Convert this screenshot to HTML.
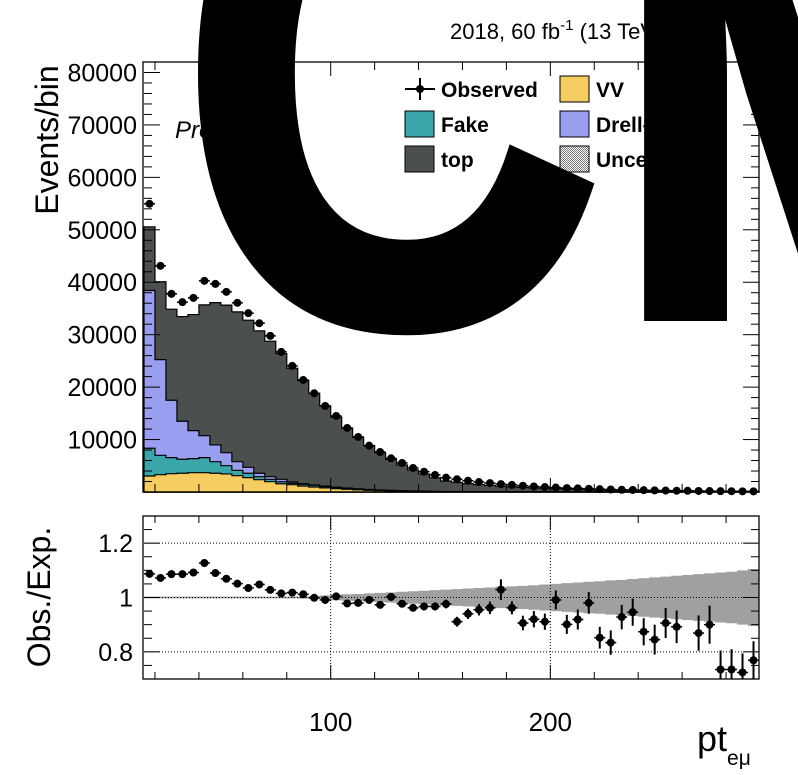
<!DOCTYPE html>
<html><head><meta charset="utf-8">
<style>
html,body{margin:0;padding:0;background:#fff;width:798px;height:775px;overflow:hidden}
svg{display:block;font-family:"Liberation Sans",sans-serif}
</style></head>
<body>
<svg id="chart" width="798" height="775" viewBox="0 0 798 775" xmlns="http://www.w3.org/2000/svg">
<defs>
<pattern id="hatch" width="2" height="2" patternUnits="userSpaceOnUse">
<rect width="2" height="2" fill="#fff"/><rect width="1" height="1" fill="#777"/><rect x="1" y="1" width="1" height="1" fill="#777"/>
</pattern>
</defs>
<g id="main"></g>
<g id="ratio"></g>
<g id="labels">
<text x="450" y="39" font-size="22">2018, 60 fb<tspan dy="-9" font-size="15">-1</tspan><tspan dy="9"> (13 TeV)</tspan></text>
<text x="175" y="138" font-size="24" font-style="italic">Preliminary</text>
<text transform="translate(58,140) rotate(-90)" text-anchor="middle" font-size="32">Events/bin</text>
<text transform="translate(50,597) rotate(-90)" text-anchor="middle" font-size="32">Obs./Exp.</text>
<text x="697" y="751" font-size="36">pt<tspan dy="14" font-size="21">eμ</tspan></text>
</g>
<g id="legend">
<g><line x1="405" y1="89" x2="435" y2="89" stroke="#000" stroke-width="2"/><line x1="420" y1="78" x2="420" y2="100" stroke="#000" stroke-width="2"/><circle cx="420" cy="89" r="4" fill="#000"/><text x="441" y="97" font-size="21" font-weight="bold">Observed</text></g>
<g><rect x="405" y="111" width="29" height="26" fill="#3aa6aa" stroke="#000"/><text x="441" y="132" font-size="21" font-weight="bold">Fake</text></g>
<g><rect x="405" y="146" width="29" height="26" fill="#4b4f4e" stroke="#000"/><text x="441" y="167" font-size="21" font-weight="bold">top</text></g>
<g><rect x="560" y="76" width="29" height="26" fill="#f5cd61" stroke="#000"/><text x="596" y="97" font-size="21" font-weight="bold">VV</text></g>
<g><rect x="560" y="111" width="29" height="26" fill="#9a9ef0" stroke="#000"/><text x="596" y="132" font-size="21" font-weight="bold">Drell-Yan</text></g>
<g><rect x="560" y="146" width="29" height="26" fill="url(#hatch)" stroke="#000"/><text x="596" y="167" font-size="21" font-weight="bold">Uncertainty</text></g>
</g>
<g>
<text transform="translate(180,321) scale(1,1.22)" font-size="585" font-weight="bold" fill="#000" stroke="#000" stroke-width="12">C</text>
<text x="609" y="317" font-size="585" font-weight="bold" fill="#000" stroke="#000" stroke-width="8">MS</text>
</g>
</svg>
<script>
const binLow = 15, binWidth = 5;
const vv = [3050,3300,3490,3570,3680,3680,3570,3440,3110,2730,2350,1970,1580,1390,1150,950,780,640,520,420,340,270,210,170,130,100,80,60,50,42,36,30,26,22,19,16,14,12,10,9,8,7,6,5,5,4,4,3,3,3,2,2,2,2,1,1];
const fake = [5290,3700,3060,2670,2680,2870,2210,1580,1030,840,570,450,390,270,320,330,250,200,170,140,110,90,70,60,50,40,30,25,22,19,16,14,12,10,9,8,7,6,5,5,4,4,3,3,3,2,2,2,2,2,1,1,1,1,1,1];
const dy = [30080,18250,10950,7250,5340,4190,3190,2480,1640,1140,650,500,450,240,110,60,100,80,60,50,40,30,25,20,15,12,10,8,7,6,5,5,4,4,3,3,3,2,2,2,2,2,1,1,1,1,1,1,1,1,1,1,1,1,1,1];
const totalMC = [50570,40100,34860,33460,33840,35690,36120,35630,34350,32760,30730,28760,26400,23600,21240,18830,16410,14250,12150,10440,8840,7500,6240,5150,4200,3440,2730,2100,1850,1600,1400,1250,1100,980,870,780,700,620,560,500,450,400,360,330,300,270,240,220,200,180,160,150,135,125,115,105];
const observed = [54960,43130,37790,36200,37020,40270,39690,38170,36070,34100,32190,29770,26720,24050,21370,18830,16410,14500,12210,10500,8840,7630,6430,5530,4580,3870,3240,2730,2420,2150,1900,1700,1500,1350,1200,1050,950,850,750,680,600,540,480,430,390,350,310,280,250,230,200,180,160,150,130,120];
const ratio = [1.087,1.072,1.086,1.086,1.092,1.127,1.090,1.069,1.051,1.035,1.048,1.028,1.015,1.018,1.012,0.999,0.991,1.004,0.978,0.980,0.991,0.973,1.002,0.977,0.962,0.967,0.967,0.976,0.911,0.940,0.955,0.962,1.029,0.962,0.906,0.920,0.911,0.991,0.901,0.919,0.980,0.852,0.834,0.928,0.946,0.874,0.845,0.906,0.892,0.600,0.869,0.900,0.735,0.735,0.724,0.769];
const ratioErr = [0.005,0.005,0.005,0.005,0.005,0.005,0.005,0.005,0.005,0.005,0.006,0.006,0.006,0.006,0.007,0.007,0.008,0.008,0.009,0.009,0.010,0.010,0.011,0.012,0.013,0.014,0.015,0.016,0.018,0.019,0.021,0.023,0.038,0.024,0.027,0.030,0.030,0.035,0.035,0.037,0.040,0.040,0.045,0.045,0.050,0.050,0.055,0.055,0.060,0.060,0.065,0.070,0.070,0.075,0.070,0.070];
const uncBand = [0.003,0.003,0.003,0.003,0.003,0.003,0.003,0.003,0.003,0.003,0.003,0.003,0.003,0.003,0.004,0.006,0.008,0.010,0.012,0.013,0.015,0.017,0.019,0.021,0.023,0.025,0.027,0.029,0.031,0.033,0.035,0.037,0.039,0.041,0.043,0.045,0.048,0.050,0.053,0.055,0.058,0.060,0.063,0.065,0.068,0.071,0.074,0.077,0.080,0.083,0.086,0.089,0.092,0.095,0.100,0.105];
const yTicks = [10000,20000,30000,40000,50000,60000,70000,80000];
const yTickLabels = ["10000","20000","30000","40000","50000","60000","70000","80000"];
const ratioTicks = [0.8,1,1.2];
const ratioTickLabels = ["0.8","1","1.2"];
const xTicks = [100,200];
const xTickLabels = ["100","200"];

const NS="http://www.w3.org/2000/svg";
const X0=144, X1=759, XMIN=15, XMAX=295;
const MT=62, MB=492, YMAX=82000;
const RT=516, RB=679, RMIN=0.7, RMAX=1.3;
const xs = v => X0 + (v-XMIN)/(XMAX-XMIN)*(X1-X0);
const ys = v => MB - v/YMAX*(MB-MT);
const rs = v => RB - (v-RMIN)/(RMAX-RMIN)*(RB-RT);
function mk(parent, tag, attrs){const e=document.createElementNS(NS,tag);for(const k in attrs)e.setAttribute(k,attrs[k]);parent.appendChild(e);return e;}
const main=document.getElementById('main'), rp=document.getElementById('ratio');

const comps=[["vv",vv,"#f5cd61"],["fake",fake,"#3aa6aa"],["drell-yan",dy,"#9a9ef0"]];
const base=new Array(totalMC.length).fill(0);
const layers=[];
comps.forEach(c=>{const lo=base.slice();c[1].forEach((v,i)=>base[i]+=v);layers.push([c[0],lo,base.slice(),c[2]]);});
layers.push(["top",base.slice(),totalMC.map((t,i)=>Math.max(t,base[i])),"#4b4f4e"]);
layers.slice().reverse().forEach(L=>{
  let d="M"+xs(binLow)+","+ys(0);
  L[2].forEach((v,i)=>{const a=xs(binLow+i*binWidth),b=xs(binLow+(i+1)*binWidth);d+=" L"+a+","+ys(v)+" L"+b+","+ys(v);});
  d+=" L"+xs(binLow+L[2].length*binWidth)+","+ys(0)+" Z";
  const p=mk(main,'path',{d:d,fill:L[3],stroke:"#000","stroke-width":1.2});
  
  
});
observed.forEach((v,i)=>{
  const cx=xs(binLow+(i+0.5)*binWidth), cy=ys(v);
  const g=mk(main,'g',{});
  
  
  mk(g,'line',{x1:xs(binLow+i*binWidth),x2:xs(binLow+(i+1)*binWidth),y1:cy,y2:cy,stroke:"#000","stroke-width":1.5});
  mk(g,'circle',{cx:cx,cy:cy,r:4,fill:"#000"});
});
const mf=mk(main,'rect',{x:X0-1,y:MT,width:X1-X0+1,height:MB-MT,fill:"none",stroke:"#000","stroke-width":1.3});


for(let v=0;v<=YMAX;v+=2000){const L=(v%10000===0)?16:8;mk(main,'line',{x1:X0,x2:X0+L,y1:ys(v),y2:ys(v),stroke:"#000"});mk(main,'line',{x1:X1-L,x2:X1,y1:ys(v),y2:ys(v),stroke:"#000"});}
for(let v=20;v<=XMAX;v+=20){const L=(v%100===0)?14:8;mk(main,'line',{x1:xs(v),x2:xs(v),y1:MB,y2:MB-L,stroke:"#000"});mk(main,'line',{x1:xs(v),x2:xs(v),y1:MT,y2:MT+L,stroke:"#000"});}
yTicks.forEach((v,i)=>{const t=mk(main,'text',{x:137,y:ys(v)+9,"text-anchor":"end","font-size":25});t.textContent=yTickLabels[i];
  
  });

let up="",dn="";
uncBand.forEach((u,i)=>{const a=xs(binLow+i*binWidth),b=xs(binLow+(i+1)*binWidth);up+=(i?" L":"M")+a+","+rs(1+u)+" L"+b+","+rs(1+u);});
for(let i=uncBand.length-1;i>=0;i--){const a=xs(binLow+i*binWidth),b=xs(binLow+(i+1)*binWidth);dn+=" L"+b+","+rs(1-uncBand[i])+" L"+a+","+rs(1-uncBand[i]);}
const band=mk(rp,'path',{d:up+dn+" Z",fill:"#a0a0a0"});


ratioTicks.forEach(v=>mk(rp,'line',{x1:X0,x2:X1,y1:rs(v),y2:rs(v),stroke:"#000","stroke-dasharray":"1,2"}));
xTicks.forEach(v=>mk(rp,'line',{x1:xs(v),x2:xs(v),y1:RT,y2:RB,stroke:"#000","stroke-dasharray":"1,2"}));
ratio.forEach((v,i)=>{
  const cx=xs(binLow+(i+0.5)*binWidth), cy=rs(v), e=ratioErr[i];
  const g=mk(rp,'g',{});
  
  
  const top=Math.max(RT,rs(v+e)), bot=Math.min(RB,rs(v-e));
  if(top<bot) mk(g,'line',{x1:cx,x2:cx,y1:top,y2:bot,stroke:"#000","stroke-width":2});
  if(cy>=RT&&cy<=RB){mk(g,'line',{x1:xs(binLow+i*binWidth),x2:xs(binLow+(i+1)*binWidth),y1:cy,y2:cy,stroke:"#000","stroke-width":1.5});mk(g,'circle',{cx:cx,cy:cy,r:4,fill:"#000"});}
});
const rf=mk(rp,'rect',{x:X0-1,y:RT,width:X1-X0+1,height:RB-RT,fill:"none",stroke:"#000","stroke-width":1.3});


for(let v=0.75;v<1.3;v+=0.05){const maj=Math.abs(Math.round(v*10)-v*10)<1e-6&&Math.round(v*10)%2===0;const L=maj?16:8;mk(rp,'line',{x1:X0,x2:X0+L,y1:rs(v),y2:rs(v),stroke:"#000"});mk(rp,'line',{x1:X1-L,x2:X1,y1:rs(v),y2:rs(v),stroke:"#000"});}
for(let v=20;v<=XMAX;v+=20){const L=(v%100===0)?14:7;mk(rp,'line',{x1:xs(v),x2:xs(v),y1:RB,y2:RB-L,stroke:"#000"});mk(rp,'line',{x1:xs(v),x2:xs(v),y1:RT,y2:RT+L,stroke:"#000"});}
ratioTicks.forEach((v,i)=>{const t=mk(rp,'text',{x:133,y:rs(v)+9,"text-anchor":"end","font-size":25});t.textContent=ratioTickLabels[i];
  
  });
xTicks.forEach((v,i)=>{const t=mk(rp,'text',{x:xs(v),y:731,"text-anchor":"middle","font-size":26});t.textContent=xTickLabels[i];
  
  });
</script>
</body></html>
